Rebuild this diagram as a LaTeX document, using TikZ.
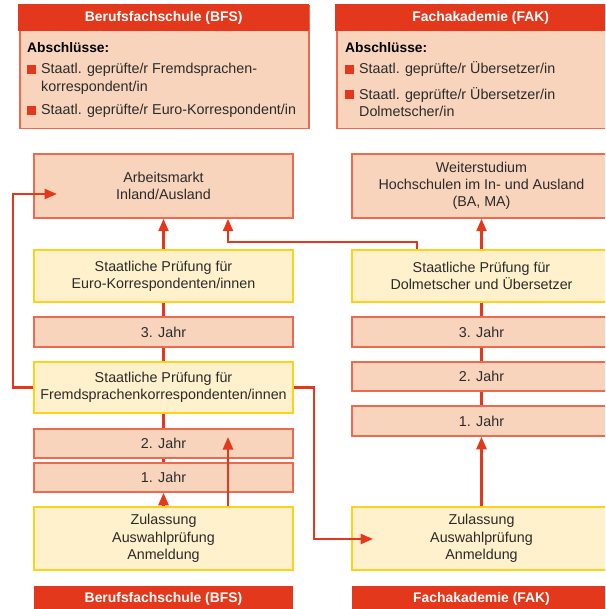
\documentclass[tikz,border=0pt]{standalone}
\usepackage{fontspec}
\setmainfont{Liberation Sans}
\usetikzlibrary{arrows.meta}
\definecolor{hdr}{HTML}{E4381C}
\definecolor{pfill}{HTML}{F9D4BD}
\definecolor{pline}{HTML}{EE6A4E}
\definecolor{yfill}{HTML}{FFF1CB}
\definecolor{yline}{HTML}{FFD21A}
\definecolor{ared}{HTML}{E4381C}
\definecolor{txt}{HTML}{2A2A2A}
\newcommand\bodyfs{\fontsize{14.3}{17.3}\selectfont}
\newcommand\hdrfs{\fontsize{13.9}{16}\selectfont\bfseries}
\tikzset{
  boxbase/.style={rectangle, line width=1.5pt, minimum width=259pt, inner sep=0pt,
    align=center, text=txt, font=\bodyfs},
  peach/.style={boxbase, draw=pline, fill=pfill},
  ylw/.style={boxbase, draw=yline, fill=yfill},
  band/.style={rectangle, fill=hdr, text=white, inner sep=0pt, font=\hdrfs},
  topbox/.style={rectangle, draw=pline, fill=pfill, line width=1.5pt, inner sep=0pt},
  itemtxt/.style={anchor=base west, inner sep=0pt, text=txt, font=\bodyfs},
  bull/.style={rectangle, fill=hdr, minimum size=9pt, inner sep=0pt, anchor=south west},
  ln/.style={draw=ared, line width=2.5pt},
  arr/.style={ln, -{Triangle[length=12.5pt,width=10pt]}}
}
\begin{document}
\begin{tikzpicture}[x=1pt,y=-1pt]
\useasboundingbox (0,0) rectangle (605,609);
\begin{scope}
\clip (0,0) rectangle (605,609);
% top boxes
\node[topbox, minimum width=289pt, minimum height=123pt, anchor=north west] (topL) at (19,5) {};
\node[band, minimum width=290.5pt, minimum height=27pt, anchor=north west] (hdrL) at (18.25,4.25) {Berufsfachschule (BFS)};
\node[itemtxt, font=\fontsize{13.8}{16}\selectfont\bfseries, text=black] (abL) at (27,52.5) {Abschlüsse:};
\node[bull] (bL1) at (26.5,74) {};
\node[itemtxt] (iL1a) at (41,74) {Staatl. geprüfte/r Fremdsprachen-};
\node[itemtxt] (iL1b) at (41,92) {korrespondent/in};
\node[bull] (bL2) at (26.5,115) {};
\node[itemtxt] (iL2) at (41,115) {Staatl. geprüfte/r Euro-Korrespondent/in};

\node[topbox, minimum width=289pt, minimum height=123pt, anchor=north west] (topR) at (336,5) {};
\node[band, minimum width=290.5pt, minimum height=27pt, anchor=north west] (hdrR) at (335.25,4.25) {Fachakademie (FAK)};
\node[itemtxt, font=\fontsize{13.8}{16}\selectfont\bfseries, text=black] (abR) at (345,52.5) {Abschlüsse:};
\node[bull] (bR1) at (344.5,74) {};
\node[itemtxt] (iR1) at (359,74) {Staatl. geprüfte/r Übersetzer/in};
\node[bull] (bR2) at (344.5,99.5) {};
\node[itemtxt] (iR2a) at (359,99.5) {Staatl. geprüfte/r Übersetzer/in};
\node[itemtxt] (iR2b) at (359,117) {Dolmetscher/in};

% left column
\node[peach, minimum height=64pt] (arb) at (163.5,186) {Arbeitsmarkt\\Inland/Ausland};
\node[ylw, minimum height=52pt] (euro) at (163.5,276) {Staatliche Prüfung für\\Euro-Korrespondenten/innen};
\node[peach, minimum height=30pt] (j3L) at (163.5,332) {3. Jahr};
\node[ylw, minimum height=51pt] (fremd) at (163.5,387.5) {Staatliche Prüfung für\\Fremdsprachenkorrespondenten/innen};
\node[peach, minimum height=29pt] (j2L) at (163.5,443.5) {2. Jahr};
\node[peach, minimum height=29pt] (j1L) at (163.5,477.5) {1. Jahr};
\node[ylw, minimum height=63pt] (zulL) at (163.5,538.5) {Zulassung\\Auswahlprüfung\\Anmeldung};
\node[band, minimum width=259pt, minimum height=26pt] (bfsB) at (163.5,599) {Berufsfachschule (BFS)};

% right column
\node[peach, minimum height=64pt] (weiter) at (481.5,186) {Weiterstudium\\Hochschulen im In- und Ausland\\(BA, MA)};
\node[ylw, minimum height=52pt] (dolm) at (481.5,276) {Staatliche Prüfung für\\Dolmetscher und Übersetzer};
\node[peach, minimum height=30pt] (j3R) at (481.5,332) {3. Jahr};
\node[peach, minimum height=29pt] (j2R) at (481.5,376.5) {2. Jahr};
\node[peach, minimum height=30pt] (j1R) at (481.5,421) {1. Jahr};
\node[ylw, minimum height=63pt] (zulR) at (481.5,538.5) {Zulassung\\Auswahlprüfung\\Anmeldung};
\node[band, minimum width=259pt, minimum height=26pt] (fakB) at (481.5,599) {Fachakademie (FAK)};

% helper coordinates
\coordinate (arbin) at (57,194);
\coordinate (lk) at (13,194);
\coordinate (t2) at (228,437);
\coordinate (ax) at (228,242);
\coordinate (dk) at (417,242);
\coordinate (zin) at (373,539);
\coordinate (rk) at (314,539);

% connectors left
\draw[ln] (euro.south) -- (j3L.north);
\draw[ln] (j3L.south) -- (fremd.north);
\draw[ln] (fremd.south) -- (j2L.north);
\draw[ln] (j2L.south) -- (j1L.north);
\draw[arr] (zulL.north) -- (j1L.south);
\draw[arr] (zulL.north -| t2) -- (t2);
\draw[arr] (euro.north) -- (arb.south);
\draw[arr] (fremd.west) -| (lk) -- (arbin);
\draw[arr] (fremd.east) -| (rk) -- (zin);
\draw[arr] (dolm.north -| dk) -- (dk) -- (ax) -- (arb.south -| ax);

% connectors right
\draw[arr] (dolm.north) -- (weiter.south);
\draw[ln] (dolm.south) -- (j3R.north);
\draw[ln] (j3R.south) -- (j2R.north);
\draw[ln] (j2R.south) -- (j1R.north);
\draw[arr] (zulR.north) -- (j1R.south);
\end{scope}
\end{tikzpicture}
\end{document}
